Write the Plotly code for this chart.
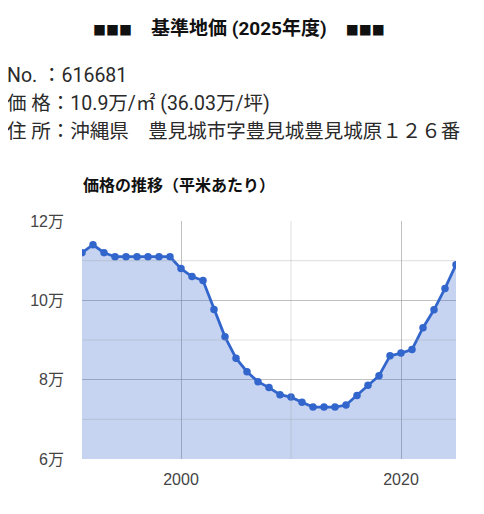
import plotly.graph_objects as go

years = list(range(1991, 2026))
prices_man = [11.2, 11.4, 11.2, 11.1, 11.1, 11.1, 11.1, 11.1, 11.1, 10.8,
              10.6, 10.5, 9.77, 9.08, 8.54, 8.2, 7.95, 7.8, 7.62, 7.56,
              7.43, 7.31, 7.31, 7.31, 7.36, 7.6, 7.86, 8.1, 8.6, 8.67,
              8.76, 9.31, 9.76, 10.3, 10.9]
y_ticks = [6, 8, 10, 12]
y_minor = [7, 9, 11]
x_ticks = [2000, 2020]

title_marks = "■■■"
title_text = "基準地価 (2025年度)"
info_lines = ["No. ：616681", "価 格：10.9万/㎡ (36.03万/坪)", "住 所：沖縄県　豊見城市字豊見城豊見城原１２６番"]
chart_title = "価格の推移（平米あたり）"

OFF = 8  # page body margin
W, H = 484, 514
L, R, T, B = 82 - OFF, 36, 221 - OFF, 63
PW, PH = W - L - R, H - T - B

def px(x):
    return (x - OFF - L) / PW

def py(y):
    return (H - B - (y - OFF)) / PH

FONT = "Roboto, Noto Sans CJK JP, sans-serif"
TFONT = "Liberation Sans, Arial, Noto Sans CJK JP, sans-serif"

fig = go.Figure()
fig.add_trace(go.Scatter(
    x=years, y=prices_man, mode="lines+markers",
    line=dict(color="#3366CC", width=2.8),
    marker=dict(color="#3366CC", size=7.5),
    fill="tozeroy", fillcolor="rgba(51,102,204,0.28)",
    hoverinfo="skip", showlegend=False,
))

shapes = []
for v in y_minor:
    shapes.append(dict(type="line", xref="paper", yref="y", x0=0, x1=1, y0=v, y1=v,
                       line=dict(color="rgba(160,160,160,0.35)", width=1), layer="above"))
shapes.append(dict(type="line", xref="x", yref="paper", x0=2010, x1=2010, y0=0, y1=1,
                   line=dict(color="rgba(160,160,160,0.35)", width=1), layer="above"))

marks = f"<span style='font-size:13px'>{title_marks}</span>"
annotations = [
    dict(text=f"<b>{marks}　{title_text}　{marks}</b>", x=px(239), y=py(28),
         xref="paper", yref="paper",
         showarrow=False, xanchor="center", yanchor="middle",
         font=dict(family=FONT, size=19, color="#111")),
    dict(text=f"<b>{chart_title}</b>", x=px(81), y=py(185), xref="paper", yref="paper",
         showarrow=False, xanchor="left", yanchor="middle",
         font=dict(family=FONT, size=16, color="#111")),
]
for i, t in enumerate(info_lines):
    annotations.append(dict(text=t, x=px(5), y=py(75 + 28 * i), xref="paper", yref="paper",
                            showarrow=False, xanchor="left", yanchor="middle",
                            font=dict(family=FONT, size=19.5, color="#2a2a2a")))

fig.update_layout(
    width=W, height=H, margin=dict(l=L, r=R, t=T, b=B),
    paper_bgcolor="white", plot_bgcolor="white",
    shapes=shapes, annotations=annotations,
    xaxis=dict(range=[1991, 2025], tickvals=x_ticks, ticktext=[str(v) for v in x_ticks],
               showgrid=True, gridcolor="rgba(150,150,150,0.6)", gridwidth=1,
               zeroline=False, showline=False, ticks="", layer="above traces",
               ticklabelstandoff=9,
               tickfont=dict(family=TFONT, size=16, color="#444")),
    yaxis=dict(range=[6, 12], tickvals=y_ticks, ticktext=[f"{v}万" for v in y_ticks],
               showgrid=True, gridcolor="rgba(150,150,150,0.6)", gridwidth=1,
               zeroline=False, showline=False, ticks="", ticklabelstandoff=17,
               layer="above traces",
               tickfont=dict(family=TFONT, size=16, color="#444")),
)
fig.write_html("out.html")
